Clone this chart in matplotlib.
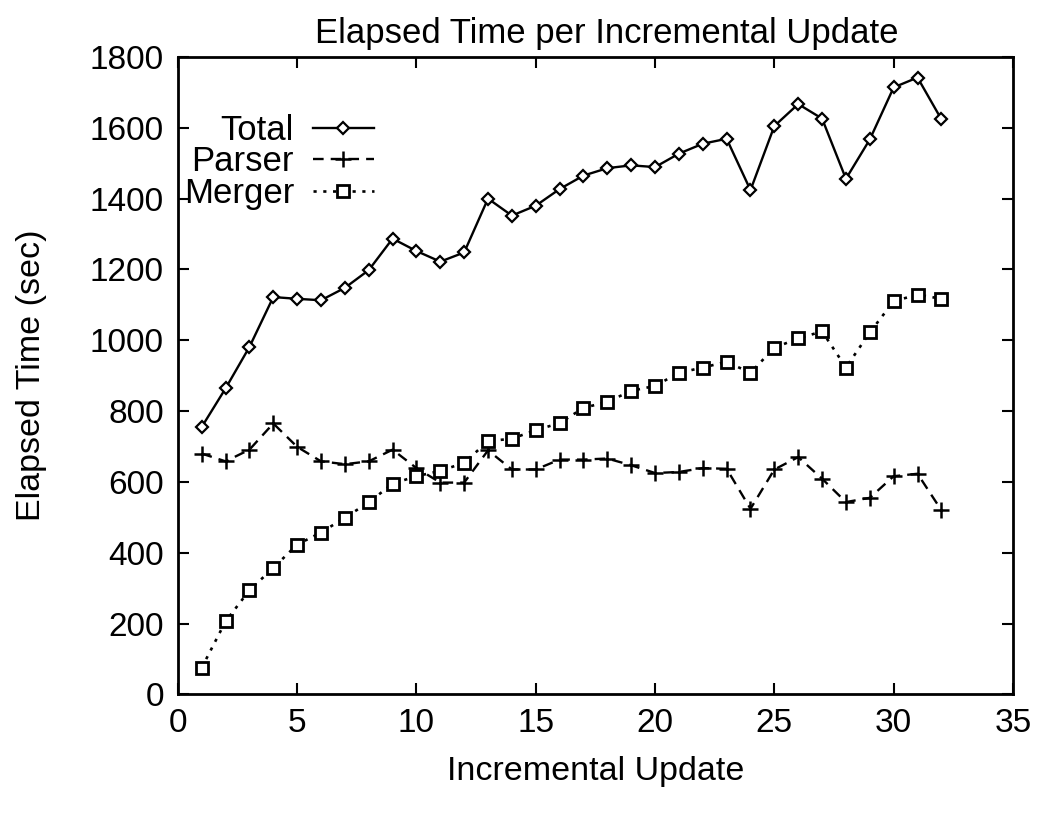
import matplotlib.pyplot as plt

plt.rcParams['font.family'] = ['Liberation Sans', 'DejaVu Sans']

# Elapsed time (sec) for each incremental update
updates = list(range(1, 33))
total = [755, 864, 981, 1122, 1117, 1113, 1148, 1198, 1287, 1252,
         1222, 1248, 1400, 1352, 1380, 1427, 1465, 1486, 1494, 1489,
         1527, 1555, 1569, 1424, 1605, 1667, 1626, 1456, 1567, 1714,
         1742, 1624]
parser = [680, 658, 691, 765, 699, 658, 650, 658, 691, 639,
          598, 598, 689, 635, 635, 663, 663, 666, 647, 625,
          628, 639, 637, 524, 635, 670, 609, 543, 555, 616,
          623, 520]
merger = [75, 206, 294, 357, 423, 457, 499, 542, 595, 616,
          631, 654, 715, 722, 746, 766, 809, 826, 857, 871,
          908, 923, 939, 908, 979, 1005, 1025, 923, 1022, 1110,
          1129, 1117]

fig = plt.figure(figsize=(10.4, 8.14), dpi=100)
ax = fig.add_axes([0.171, 0.147, 0.803, 0.783])

ax.plot(updates, total, color='black', linestyle='-', linewidth=1.7,
        marker='D', markersize=6.5, markerfacecolor='white',
        markeredgecolor='black', markeredgewidth=1.6, label='Total')
ax.plot(updates, parser, color='black', linestyle=(0, (4.5, 3)), linewidth=1.7,
        marker='+', markersize=12, markeredgewidth=1.8, label='Parser')
ax.plot(updates, merger, color='black', linestyle=(0, (1.2, 2.5)), linewidth=1.9,
        marker='s', markersize=9, markerfacecolor='white',
        markeredgecolor='black', markeredgewidth=2, label='Merger')

ax.set_xlim(0, 35)
ax.set_ylim(0, 1800)
ax.set_xticks(range(0, 36, 5))
ax.set_yticks(range(0, 1801, 200))
ax.tick_params(direction='in', length=8, width=1.5, top=True, right=True,
               labelsize=24, pad=10)
for s in ax.spines.values():
    s.set_linewidth(2)

ax.set_title('Elapsed Time per Incremental Update', fontsize=25, pad=10, x=0.513)
ax.set_xlabel('Incremental Update', fontsize=24.5, labelpad=12)
ax.set_ylabel('Elapsed Time (sec)', fontsize=24.5, labelpad=31)

ax.legend(loc='upper left', bbox_to_anchor=(-0.018, 0.943), frameon=False,
          markerfirst=False, fontsize=25, handlelength=1.75,
          labelspacing=-0.05, handletextpad=0.55, borderaxespad=0.2)

fig.savefig('out.png', dpi=100)
